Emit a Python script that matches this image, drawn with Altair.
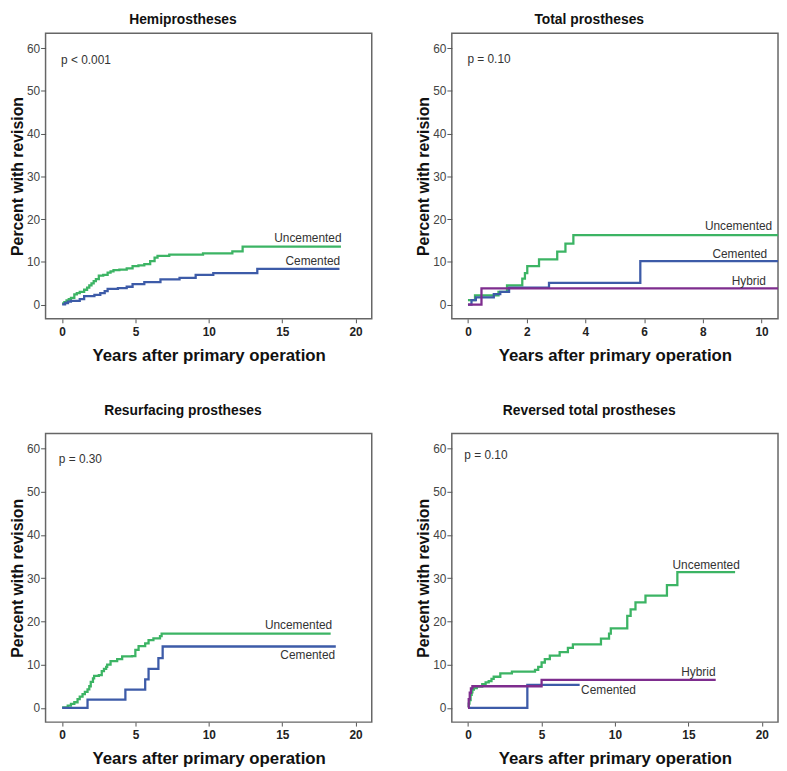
import altair as alt
import pandas as pd

FONT = "Liberation Sans"
NARROW = "Liberation Sans Narrow, Arial Narrow, Liberation Sans"
GREEN = "#3cb464"
BLUE = "#3d5ba8"
PURPLE = "#7e2d8e"

# ---------------- data ----------------
titles = ["Hemiprostheses", "Total prostheses", "Resurfacing prostheses", "Reversed total prostheses"]
p_values = ["p < 0.001", "p = 0.10", "p = 0.30", "p = 0.10"]

# Hemiprostheses
hemi_unc_t = [0, 0.15, 0.3, 0.45, 0.6, 0.83, 1.0, 1.2, 1.5, 1.7, 1.85, 2.0, 2.15, 2.3, 2.5, 2.8, 3.1, 3.3, 3.5, 3.9,
              4.4, 4.8, 5.2, 5.6, 6.0, 6.3, 6.5, 7.3, 9.6, 11.6, 12.3, 19.0]
hemi_unc_v = [0.3, 0.6, 1.0, 1.3, 1.6, 2.4, 2.7, 3.0, 3.5, 4.0, 4.5, 5.0, 5.5, 6.0, 6.8, 7.0, 7.5, 7.8, 8.1, 8.2,
              8.5, 9.0, 9.2, 9.5, 10.2, 11.0, 11.4, 11.7, 12.0, 12.5, 13.6, 13.6]
hemi_cem_t = [0, 0.2, 0.4, 0.6, 1.2, 1.5, 2.2, 2.6, 2.9, 3.1, 3.8, 4.4, 4.8, 5.6, 6.7, 8.0, 9.1, 10.3, 13.3, 18.9]
hemi_cem_v = [0.1, 0.4, 0.7, 0.9, 1.3, 2.0, 2.3, 2.7, 3.2, 3.7, 3.9, 4.2, 4.8, 5.3, 5.9, 6.3, 7.0, 7.4, 8.4, 8.4]

# Total prostheses
tot_unc_t = [0, 0.24, 1.04, 1.33, 1.85, 1.94, 2.02, 2.42, 3.04, 3.32, 3.59, 10.6]
tot_unc_v = [1.1, 2.2, 3.0, 4.5, 6.1, 7.4, 9.0, 10.6, 12.4, 14.3, 16.3, 16.3]
tot_cem_t = [0, 0.12, 0.27, 0.88, 1.1, 1.4, 2.76, 5.87, 10.6]
tot_cem_v = [0, 1.1, 1.7, 2.5, 3.0, 4.0, 5.1, 10.2, 10.2]
tot_hyb_t = [0, 0.46, 10.6]
tot_hyb_v = [0, 3.8, 3.8]

# Resurfacing prostheses
res_unc_t = [0, 0.38, 0.6, 0.83, 1.05, 1.2, 1.39, 1.55, 1.73, 1.85, 1.95, 2.1, 2.18, 2.5, 2.7, 2.85, 3.0, 3.07,
             3.3, 3.75, 4.09, 4.76, 4.99, 5.21, 5.66, 5.89, 6.22, 6.67, 6.78, 18.3]
res_unc_v = [0.1, 0.5, 0.9, 1.3, 2.0, 2.6, 3.2, 3.7, 4.3, 5.0, 6.0, 6.8, 7.4, 7.6, 8.5, 9.0, 9.5, 10.0,
             10.8, 11.3, 11.9, 12.0, 13.4, 14.3, 14.9, 15.7, 16.1, 16.6, 17.2, 17.2]
res_cem_t = [0, 1.73, 4.31, 5.66, 5.89, 6.56, 6.85, 18.65]
res_cem_v = [0, 1.9, 4.2, 6.6, 9.0, 11.5, 14.2, 14.2]

# Reversed total prostheses
rev_unc_t = [0, 0.05, 0.1, 0.18, 0.25, 0.3, 0.4, 0.6, 0.97, 1.2, 1.41, 1.6, 1.75, 2.2, 2.99, 4.56, 4.78, 5.01,
             5.23, 5.57, 6.24, 6.8, 7.14, 9.05, 9.6, 9.72, 10.84, 11.07, 11.4, 12.08, 13.54, 14.25, 18.18]
rev_unc_v = [0.2, 1.0, 1.8, 3.0, 3.6, 4.2, 4.6, 4.9, 5.5, 5.9, 6.2, 6.7, 7.2, 8.0, 8.4, 8.8, 9.5, 10.5,
             11.3, 12.1, 12.9, 13.9, 14.7, 16.0, 17.2, 18.4, 21.3, 22.8, 24.4, 26.0, 28.4, 31.4, 31.4]
rev_cem_t = [0, 4.04, 7.6]
rev_cem_v = [0, 5.3, 5.3]
rev_hyb_t = [0, 0.05, 0.12, 0.2, 0.3, 5.01, 16.86]
rev_hyb_v = [0, 2.0, 3.5, 4.5, 5.0, 6.5, 6.5]

# label placement (x, y) in data units
hemi_labels = [("Uncemented", 19.04, 15.5, "right"), ("Cemented", 18.95, 10.3, "right")]
tot_labels = [("Uncemented", 10.36, 18.3, "right"), ("Cemented", 10.19, 11.9, "right"), ("Hybrid", 10.15, 5.5, "right")]
res_labels = [("Uncemented", 18.4, 19.1, "right"), ("Cemented", 18.6, 12.3, "right")]
rev_labels = [("Uncemented", 18.5, 33.0, "right"), ("Hybrid", 16.85, 8.2, "right"), ("Cemented", 7.7, 4.2, "left")]

y_ticks = [0, 10, 20, 30, 40, 50, 60]
x_ticks_long = [0, 5, 10, 15, 20]
x_ticks_short = [0, 2, 4, 6, 8, 10]


def panel(title, ptext, pxy, series, labels, xdom, xticks, h, toff):
    xs = alt.Scale(domain=xdom, nice=False, zero=False)
    ys = alt.Scale(domain=[-3.3, 63.5], nice=False, zero=False)
    xax = alt.Axis(values=xticks, grid=False, domain=False, tickSize=4, tickColor="#555",
                   labelFontWeight="bold", labelFontSize=12, labelColor="#222", labelPadding=4,
                   labelFont=FONT, title="Years after primary operation", titleFontSize=17,
                   titleFontWeight="bold", titleFont=FONT, titleColor="#111", titlePadding=10)
    yax = alt.Axis(values=y_ticks, grid=False, domain=False, tickSize=5, tickColor="#555",
                   labelFontSize=12, labelColor="#444", labelPadding=1, labelFont=NARROW,
                   title="Percent with revision", titleFontSize=16, titleFontWeight="bold",
                   titleFont=FONT, titleColor="#111", titlePadding=1)
    X = alt.X("t:Q", scale=xs, axis=xax)
    Y = alt.Y("v:Q", scale=ys, axis=yax)
    layers = []
    for (t, v, color) in series:
        df = pd.DataFrame({"t": t, "v": v})
        layers.append(alt.Chart(df).mark_line(interpolate="step-after", color=color, strokeWidth=2.3,
                                              clip=True).encode(x=X, y=Y))
    for align in ["left", "right"]:
        rows = [l for l in labels if l[3] == align]
        if not rows:
            continue
        ldf = pd.DataFrame({"label": [r[0] for r in rows], "t": [r[1] for r in rows], "v": [r[2] for r in rows]})
        layers.append(alt.Chart(ldf).mark_text(align=align, baseline="middle", fontSize=12, font=FONT,
                                               color="#333").encode(x=X, y=Y, text="label:N"))
    pdf = pd.DataFrame({"label": [ptext], "t": [pxy[0]], "v": [pxy[1]]})
    layers.append(alt.Chart(pdf).mark_text(align="left", baseline="middle", fontSize=12, font=FONT,
                                           color="#333").encode(x=X, y=Y, text="label:N"))
    return alt.layer(*layers).properties(
        width=330, height=h,
        view=alt.ViewConfig(stroke="#666", strokeWidth=1.5),
        title=alt.TitleParams(title, fontSize=14, fontWeight="bold", font=FONT, anchor="middle",
                              frame="group", dx=-26, offset=toff, color="#111"))


p1 = panel(titles[0], p_values[0], (-0.07, 57.3),
           [(hemi_unc_t, hemi_unc_v, GREEN), (hemi_cem_t, hemi_cem_v, BLUE)],
           hemi_labels, [-1.13, 21.1], x_ticks_long, 289, 6)
p2 = panel(titles[1], p_values[1], (-0.02, 57.5),
           [(tot_unc_t, tot_unc_v, GREEN), (tot_cem_t, tot_cem_v, BLUE), (tot_hyb_t, tot_hyb_v, PURPLE)],
           tot_labels, [-0.55, 10.56], x_ticks_short, 289, 6)
p3 = panel(titles[2], p_values[2], (-0.23, 57.7),
           [(res_unc_t, res_unc_v, GREEN), (res_cem_t, res_cem_v, BLUE)],
           res_labels, [-1.13, 21.1], x_ticks_long, 292, 16)
p4 = panel(titles[3], p_values[3], (-0.25, 58.5),
           [(rev_unc_t, rev_unc_v, GREEN), (rev_cem_t, rev_cem_v, BLUE), (rev_hyb_t, rev_hyb_v, PURPLE)],
           rev_labels, [-1.1, 21.1], x_ticks_long, 292, 16)

chart = alt.vconcat(
    alt.hconcat(p1, p2, spacing=42),
    alt.hconcat(p3, p4, spacing=42),
    spacing=39,
).configure_view(stroke="#666", strokeWidth=1.5).configure(background="white").properties(padding=0)

chart.save("out.html", embed_options={"renderer": "svg", "actions": False})
